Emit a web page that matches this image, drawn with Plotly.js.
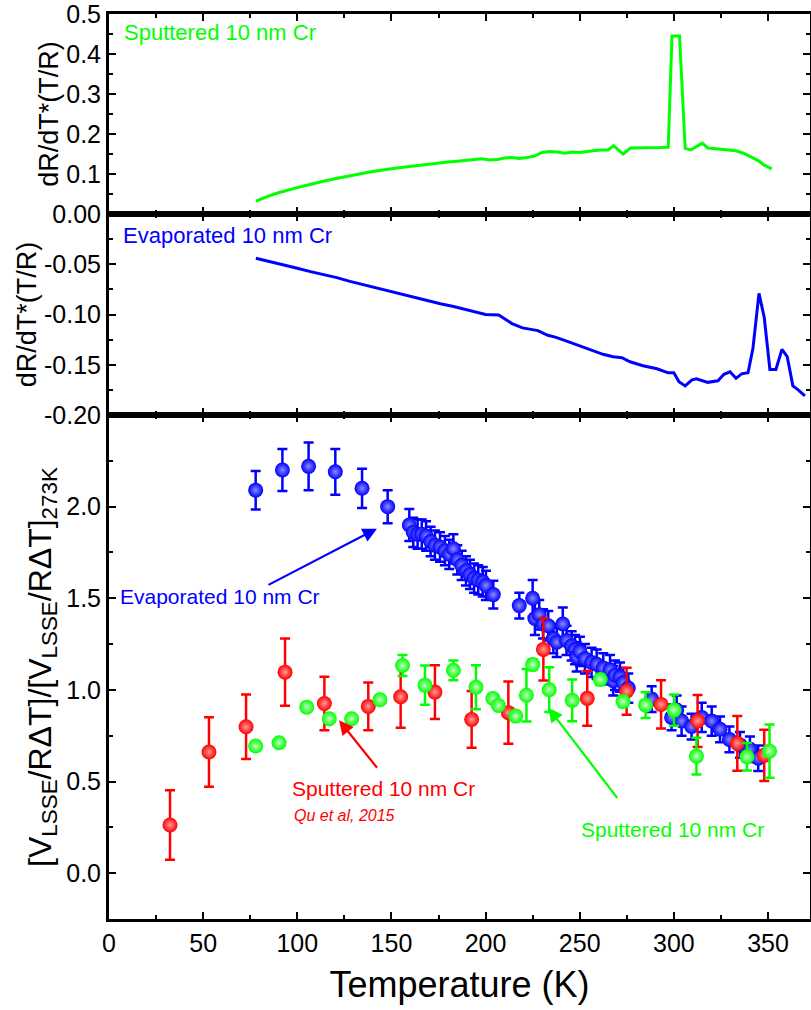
<!DOCTYPE html>
<html><head><meta charset="utf-8">
<script src="https://cdn.plot.ly/plotly-3.0.1.min.js"></script>
<style>html,body{margin:0;padding:0;background:#fff}</style>
</head><body><div id="chart" style="width:811px;height:1010px"></div>
<script>
// ---- Top panel: sputtered film dR/dT*(T/R)
const sputLineT = [78,82,86,90,95,100,105,110,115,120,125,130,135,140,145,150,155,160,165,170,175,180,185,190,195,198,202,206,210,214,218,222,226,230,234,238,242,246,250,254,258,262,265,268,273,277,282,287,292,297,299,303,306,309,313,315,318,323,328,333,337,341,345,348,352];
const sputLineR = [0.032,0.040,0.047,0.053,0.060,0.066,0.072,0.078,0.083,0.088,0.093,0.098,0.102,0.106,0.110,0.113,0.116,0.119,0.122,0.125,0.128,0.130,0.132,0.134,0.136,0.138,0.135,0.136,0.140,0.141,0.139,0.141,0.145,0.154,0.156,0.155,0.152,0.155,0.154,0.157,0.159,0.160,0.160,0.171,0.150,0.165,0.165,0.165,0.166,0.167,0.445,0.445,0.164,0.160,0.172,0.177,0.165,0.163,0.161,0.158,0.152,0.143,0.133,0.122,0.113];

// ---- Middle panel: evaporated film dR/dT*(T/R)
const evapLineT = [78,85,93,100,107,114,121,128,134.5,141,148,155,162,169,176,183,189.5,195,200,207,211,214,219.6,224,227.8,233,237,241.6,248.6,255.5,262.4,267.7,272.4,276.7,283.6,291,297,300,302.7,306,309.6,312,318,323.4,326.6,329.8,333,336,339.4,342,345.2,348,351,354.2,357.4,360.2,363.2,366,369.6];
const evapLineR = [-0.044,-0.047,-0.0507,-0.054,-0.0573,-0.060,-0.0633,-0.067,-0.070,-0.0735,-0.0767,-0.0797,-0.0827,-0.086,-0.0893,-0.092,-0.095,-0.0975,-0.100,-0.1005,-0.105,-0.109,-0.1133,-0.1145,-0.116,-0.1207,-0.1225,-0.1255,-0.130,-0.1347,-0.1396,-0.142,-0.143,-0.147,-0.151,-0.154,-0.158,-0.158,-0.1668,-0.171,-0.165,-0.164,-0.1675,-0.166,-0.1595,-0.157,-0.1635,-0.159,-0.158,-0.1337,-0.079,-0.103,-0.1546,-0.1546,-0.1347,-0.142,-0.171,-0.175,-0.181];

// ---- Bottom panel: normalised LSSE signal
const evapT = [77.9,92.1,106.0,120.2,134.4,148.0,159.5,161.6,163.9,166.1,168.4,170.8,173.1,175.8,178.4,180.7,182.9,185.0,187.3,189.6,191.7,193.9,196.1,198.5,200.2,204.1,217.9,225.0,226.2,228.5,230.5,233.3,236.0,237.8,241.0,243.0,245.7,247.5,248.4,250.1,252.8,256.3,259.0,262.5,266.1,267.8,268.7,271.4,273.1,275.8,288.2,298.8,301.5,304.1,309.4,314.8,320.1,324.5,329.5,335.1,340.4,344.8];
const evapV = [2.09,2.20,2.22,2.19,2.10,2.00,1.90,1.86,1.85,1.85,1.84,1.81,1.79,1.78,1.76,1.74,1.77,1.71,1.68,1.65,1.63,1.61,1.60,1.59,1.57,1.52,1.46,1.50,1.39,1.41,1.36,1.35,1.28,1.26,1.36,1.27,1.24,1.22,1.18,1.21,1.17,1.15,1.14,1.12,1.11,1.05,1.08,1.07,1.04,1.01,0.95,0.85,0.89,0.83,0.80,0.85,0.83,0.785,0.73,0.70,0.676,0.627];
const evapErr = [0.105,0.115,0.13,0.125,0.107,0.09,0.087,0.08,0.08,0.08,0.08,0.08,0.08,0.08,0.08,0.08,0.08,0.08,0.08,0.08,0.08,0.08,0.08,0.08,0.08,0.076,0.07,0.10,0.09,0.08,0.08,0.08,0.08,0.08,0.09,0.08,0.08,0.08,0.08,0.08,0.08,0.08,0.08,0.08,0.08,0.08,0.08,0.08,0.08,0.08,0.07,0.07,0.08,0.08,0.07,0.08,0.08,0.07,0.07,0.07,0.07,0.07];

const quT = [32.4,53.1,72.8,93.5,114.4,137.7,154.9,173.1,192.6,212.1,230.7,254.0,274.9,293.2,312.6,333.7,348.0];
const quV = [0.263,0.661,0.799,1.097,0.926,0.910,0.963,0.988,0.839,0.876,1.221,0.954,0.993,0.921,0.830,0.708,0.643];
const quErr = [0.19,0.19,0.176,0.184,0.146,0.13,0.17,0.147,0.155,0.17,0.17,0.149,0.128,0.132,0.142,0.149,0.14];

const sputT = [77.9,90.3,105.0,117.0,128.9,143.9,155.9,167.8,182.9,194.9,203.9,206.8,216.0,221.7,225.0,233.8,246.0,260.9,273.0,285.0,300.1,312.0,338.8,350.8];
const sputV = [0.694,0.712,0.906,0.843,0.843,0.946,1.133,1.026,1.107,1.015,0.953,0.915,0.857,0.971,1.138,1.001,0.943,1.057,0.937,0.917,0.890,0.639,0.635,0.666];
const sputErr = [0.02,0.02,0.02,0.02,0.02,0.02,0.057,0.107,0.054,0.12,0.02,0.02,0.02,0.143,0.03,0.122,0.114,0.03,0.03,0.07,0.085,0.10,0.075,0.145];

// ---- ticks
const xTickVals = [0,50,100,150,200,250,300,350];
const xMinorVals = [25,75,125,175,225,275,325];
const botTickVals = [0,0.5,1.0,1.5,2.0];
const botTickText = ['0.0','0.5','1.0','1.5','2.0'];
const botMinor = [-0.25,0.25,0.75,1.25,1.75,2.25];
const midTickVals = [0,-0.05,-0.10,-0.15,-0.20];
const midTickText = ['0.00','-0.05','-0.10','-0.15','-0.20'];
const midMinor = [-0.025,-0.075,-0.125,-0.175];
const topTickVals = [0.1,0.2,0.3,0.4,0.5];
const topTickText = ['0.1','0.2','0.3','0.4','0.5'];
const topMinor = [0.05,0.15,0.25,0.35,0.45];

const GREEN = '#00ff00', BLUE = '#0000ff', RED = '#ff0000';
const FONT = "Arial, 'Liberation Sans', sans-serif";

function ball(color, light){
  return {size: 15, color: color, gradient: {type: 'radial', color: light}, line: {width: 0}};
}
function err(arr, color){
  return {type: 'data', array: arr, visible: true, color: color, thickness: 2.5, width: 5};
}

const traces = [
  {x: sputLineT, y: sputLineR, xaxis: 'x3', yaxis: 'y3', mode: 'lines', line: {color: GREEN, width: 3}, name: 'Sputtered dR/dT'},
  {x: evapLineT, y: evapLineR, xaxis: 'x2', yaxis: 'y2', mode: 'lines', line: {color: BLUE, width: 3}, name: 'Evaporated dR/dT'},
  {x: evapT, y: evapV, error_y: err(evapErr, BLUE), mode: 'markers', marker: ball(BLUE, '#8a8aff'), name: 'Evaporated 10 nm Cr'},
  {x: quT, y: quV, error_y: err(quErr, RED), mode: 'markers', marker: ball(RED, '#ff9a9a'), name: 'Sputtered (Qu et al)'},
  {x: sputT, y: sputV, error_y: err(sputErr, GREEN), mode: 'markers', marker: ball(GREEN, '#c0ffc0'), name: 'Sputtered 10 nm Cr'}
];

const XR = [0, 372.3];
function xax(extra){
  return Object.assign({
    range: XR, showline: true, linewidth: 3, linecolor: '#000', mirror: 'ticks',
    ticks: 'inside', ticklen: 7, tickwidth: 2, tickcolor: '#000',
    tickmode: 'array', tickvals: xTickVals, ticktext: xTickVals.map(String),
    minor: {tickmode: 'array', tickvals: xMinorVals, ticks: 'inside', ticklen: 4, tickwidth: 2, tickcolor: '#000'},
    showgrid: false, zeroline: false, ticklabeloverflow: 'allow',
    tickfont: {family: FONT, size: 25, color: '#000'}
  }, extra);
}
function yax(extra, minorVals){
  return Object.assign({
    showline: true, linewidth: 3, linecolor: '#000', mirror: 'ticks',
    ticks: 'inside', ticklen: 7, tickwidth: 2, tickcolor: '#000', tickmode: 'array',
    minor: {tickmode: 'array', tickvals: minorVals, ticks: 'inside', ticklen: 4, tickwidth: 2, tickcolor: '#000'},
    showgrid: false, zeroline: false, ticklabeloverflow: 'allow',
    tickfont: {family: FONT, size: 25, color: '#000'}
  }, extra);
}

const D1 = 0.5569, D2 = 0.779;
const layout = {
  width: 811, height: 1010,
  margin: {l: 109, r: 1, t: 14, b: 91},
  paper_bgcolor: '#fff', plot_bgcolor: '#fff',
  showlegend: false,
  font: {family: FONT, color: '#000'},
  xaxis: xax({anchor: 'y', domain: [0,1],
    title: {text: 'Temperature (K)', font: {family: FONT, size: 36, color: '#000'}, standoff: 16}}),
  xaxis2: xax({anchor: 'y2', matches: 'x', showticklabels: false}),
  xaxis3: xax({anchor: 'y3', matches: 'x', showticklabels: false}),
  yaxis: yax({domain: [0, D1], range: [-0.25, 2.5], tickvals: botTickVals, ticktext: botTickText,
    title: {text: '[V<sub>LSSE</sub>/RΔT]/[V<sub>LSSE</sub>/RΔT]<sub>273K</sub>', font: {family: FONT, size: 32, color: '#000'}, standoff: 6}}, botMinor),
  yaxis2: yax({domain: [D1, D2], range: [-0.2, 0], tickvals: midTickVals, ticktext: midTickText,
    title: {text: 'dR/dT*(T/R)', font: {family: FONT, size: 27, color: '#000'}, standoff: 0}}, midMinor),
  yaxis3: yax({domain: [D2, 1], range: [0, 0.5], tickvals: topTickVals, ticktext: topTickText,
    title: {text: 'dR/dT*(T/R)', font: {family: FONT, size: 27, color: '#000'}, standoff: 0}}, topMinor),
  annotations: [
    {xref: 'x3', yref: 'y3', x: 7, y: 0.4535, text: 'Sputtered 10 nm Cr', showarrow: false, xanchor: 'left', yanchor: 'middle', font: {family: FONT, size: 22, color: GREEN}},
    {xref: 'x2', yref: 'y2', x: 6.5, y: -0.0209, text: 'Evaporated 10 nm Cr', showarrow: false, xanchor: 'left', yanchor: 'middle', font: {family: FONT, size: 22, color: BLUE}},
    {xref: 'x', yref: 'y', x: 5, y: 1.51, text: 'Evaporated 10 nm Cr', showarrow: false, xanchor: 'left', yanchor: 'middle', font: {family: FONT, size: 21, color: BLUE}},
    {xref: 'x', yref: 'y', x: 96, y: 0.463, text: 'Sputtered 10 nm Cr', showarrow: false, xanchor: 'left', yanchor: 'middle', font: {family: FONT, size: 21, color: RED}},
    {xref: 'x', yref: 'y', x: 97, y: 0.316, text: '<i>Qu et al, 2015</i>', showarrow: false, xanchor: 'left', yanchor: 'middle', font: {family: FONT, size: 16, color: RED}},
    {xref: 'x', yref: 'y', x: 249.5, y: 0.24, text: 'Sputtered 10 nm Cr', showarrow: false, xanchor: 'left', yanchor: 'middle', font: {family: FONT, size: 21, color: GREEN}},
    {xref: 'x', yref: 'y', axref: 'x', ayref: 'y', x: 142.3, y: 1.880, ax: 83.9, ay: 1.569, text: '', showarrow: true, arrowhead: 2, arrowsize: 1.3, arrowwidth: 2.2, arrowcolor: BLUE, standoff: 0, startstandoff: 0},
    {xref: 'x', yref: 'y', axref: 'x', ayref: 'y', x: 122.2, y: 0.834, ax: 143.0, ay: 0.567, text: '', showarrow: true, arrowhead: 2, arrowsize: 1.3, arrowwidth: 2.2, arrowcolor: RED, standoff: 0, startstandoff: 0},
    {xref: 'x', yref: 'y', axref: 'x', ayref: 'y', x: 233.3, y: 0.903, ax: 270.5, ay: 0.403, text: '', showarrow: true, arrowhead: 2, arrowsize: 1.3, arrowwidth: 2.2, arrowcolor: GREEN, standoff: 0, startstandoff: 0}
  ]
};

Plotly.newPlot('chart', traces, layout, {displayModeBar: false, staticPlot: true});
</script></body></html>
